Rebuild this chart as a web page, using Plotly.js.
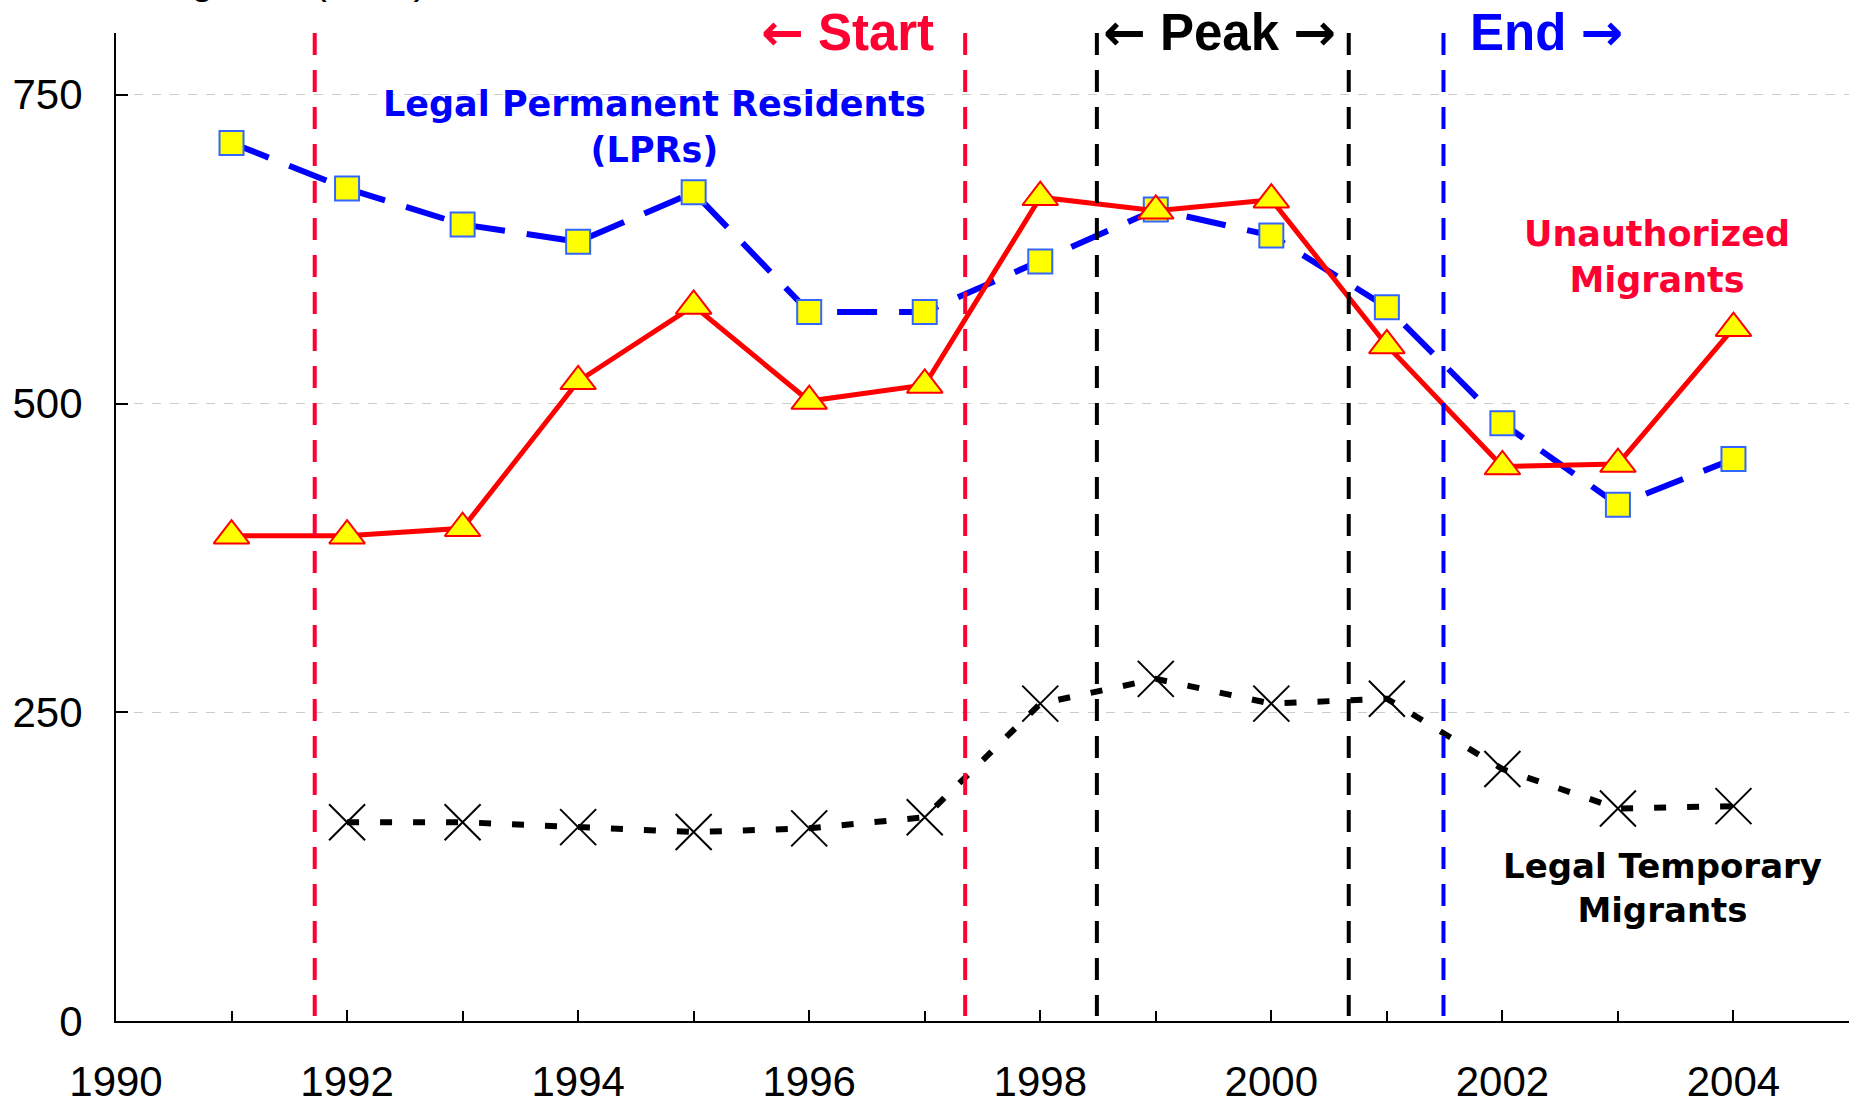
<!DOCTYPE html>
<html>
<head>
<meta charset="utf-8">
<script src="https://cdn.plot.ly/plotly-3.0.1.min.js"></script>
<style>
  html, body { margin: 0; padding: 0; background: #fff; }
  #chart { width: 1857px; height: 1107px; }
</style>
</head>
<body>
<div id="chart"></div>
<script>
// ---- Data ----
const years = [1991, 1992, 1993, 1994, 1995, 1996, 1997, 1998, 1999, 2000, 2001, 2002, 2003, 2004];
const lprValues = [711, 674, 645, 631, 671, 574, 574, 615, 657, 636, 578, 484, 418, 455];
const unauthorizedValues = [393, 393, 399, 518, 579, 502, 515, 667, 656, 665, 547, 449, 451, 561];
const temporaryYears = [1992, 1993, 1994, 1995, 1996, 1997, 1998, 1999, 2000, 2001, 2002, 2003, 2004];
const temporaryValues = [161, 161, 157, 153, 156, 165, 257, 277, 257, 261, 204, 172, 174];

// period boundaries (vertical dashed lines)
const phaseBoundaries = [1991.72, 1997.35, 1998.49, 2000.67, 2001.49];
const phaseColors = ['#FF0033', '#FF0033', '#000000', '#000000', '#0000FF'];

const yTickVals = [0, 250, 500, 750];
const xTickVals = [1990, 1992, 1994, 1996, 1998, 2000, 2002, 2004];

const BOLD = '"DejaVu Sans", "Liberation Sans", Arial, sans-serif';
const ARIAL = '"Liberation Sans", Arial, Helvetica, sans-serif';
const ARROW_L = '<span style="font-family:\'DejaVu Sans\'">\u2190</span>';
const ARROW_R = '<span style="font-family:\'DejaVu Sans\'">\u2192</span>';

const traces = [
  {
    x: years, y: lprValues, type: 'scatter', mode: 'lines+markers',
    name: 'Legal Permanent Residents (LPRs)',
    line: { color: '#0000FF', width: 6, dash: '40px,22px' },
    marker: { symbol: 'square', size: 24, color: '#FFFF00', line: { color: '#3366FF', width: 2 } }
  },
  {
    x: years, y: unauthorizedValues, type: 'scatter', mode: 'lines+markers',
    name: 'Unauthorized Migrants',
    line: { color: '#FF0000', width: 5 },
    marker: { symbol: 'triangle-up', size: 31, color: '#FFFF00', line: { color: '#FF0000', width: 2 } }
  },
  {
    x: temporaryYears, y: temporaryValues, type: 'scatter', mode: 'lines+markers',
    name: 'Legal Temporary Migrants',
    line: { color: '#000000', width: 6, dash: '12px,21px' },
    marker: { symbol: 'x-thin-open', size: 36, color: '#000000', line: { color: '#000000', width: 2 } }
  }
];

const shapes = phaseBoundaries.map((xv, i) => ({
  type: 'line', xref: 'x', yref: 'paper',
  x0: xv, x1: xv, y0: 1.0, y1: 0.005,
  line: { color: phaseColors[i], width: 4, dash: '22px,15px' },
  layer: 'above'
}));

const annotations = [
  { text: 'Migrants (000s)', xref: 'x', yref: 'paper', x: 1991.49, y: 1.054,
    xanchor: 'center', yanchor: 'middle', showarrow: false,
    font: { family: ARIAL, size: 40, color: '#000' } },
  { text: ARROW_L + ' Start', xref: 'x', yref: 'paper', x: 1996.33, y: 1.001,
    xanchor: 'center', yanchor: 'middle', showarrow: false,
    font: { family: ARIAL, size: 51, color: '#FF0033', weight: 'bold' } },
  { text: ARROW_L + ' Peak ' + ARROW_R, xref: 'x', yref: 'paper', x: 1999.55, y: 1.001,
    xanchor: 'center', yanchor: 'middle', showarrow: false,
    font: { family: ARIAL, size: 51, color: '#000000', weight: 'bold' } },
  { text: 'End ' + ARROW_R, xref: 'x', yref: 'paper', x: 2002.38, y: 1.001,
    xanchor: 'center', yanchor: 'middle', showarrow: false,
    font: { family: ARIAL, size: 51, color: '#0000FF', weight: 'bold' } },
  { text: 'Legal Permanent Residents<br>(LPRs)', xref: 'x', yref: 'y', x: 1994.66, y: 724,
    xanchor: 'center', yanchor: 'middle', showarrow: false,
    font: { family: BOLD, size: 35, color: '#0000FF', weight: 'bold' } },
  { text: 'Unauthorized<br>Migrants', xref: 'x', yref: 'y', x: 2003.34, y: 619,
    xanchor: 'center', yanchor: 'middle', showarrow: false,
    font: { family: BOLD, size: 35, color: '#FF0033', weight: 'bold' } },
  { text: 'Legal Temporary<br>Migrants', xref: 'x', yref: 'y', x: 2003.39, y: 108,
    xanchor: 'center', yanchor: 'middle', showarrow: false,
    font: { family: BOLD, size: 34, color: '#000000', weight: 'bold' } }
];

const layout = {
  width: 1857, height: 1107,
  margin: { l: 116, r: 8, t: 33, b: 86, pad: 0 },
  paper_bgcolor: '#ffffff', plot_bgcolor: '#ffffff',
  showlegend: false,
  xaxis: {
    range: [1990, 2005], tickvals: xTickVals, ticktext: xTickVals.map(String),
    ticks: 'inside', ticklen: 11, tickwidth: 2, tickcolor: '#000',
    minor: { dtick: 1, tick0: 1990, ticks: 'inside', ticklen: 10, tickwidth: 2, tickcolor: '#000', showgrid: false },
    showline: true, linecolor: '#000', linewidth: 2,
    showgrid: false, zeroline: false,
    tickfont: { family: ARIAL, size: 42, color: '#000' },
    ticklabelstandoff: 23
  },
  yaxis: {
    range: [0, 800], tickvals: yTickVals, ticktext: yTickVals.map(String),
    ticks: 'inside', ticklen: 12, tickwidth: 2, tickcolor: '#000',
    showline: true, linecolor: '#000', linewidth: 2,
    showgrid: true, gridcolor: '#CCCCCC', gridwidth: 1, griddash: 'dash',
    zeroline: false,
    tickfont: { family: ARIAL, size: 42, color: '#000' },
    ticklabelstandoff: 23
  },
  shapes: shapes,
  annotations: annotations
};

Plotly.newPlot('chart', traces, layout, { displayModeBar: false, staticPlot: true });
</script>
</body>
</html>
